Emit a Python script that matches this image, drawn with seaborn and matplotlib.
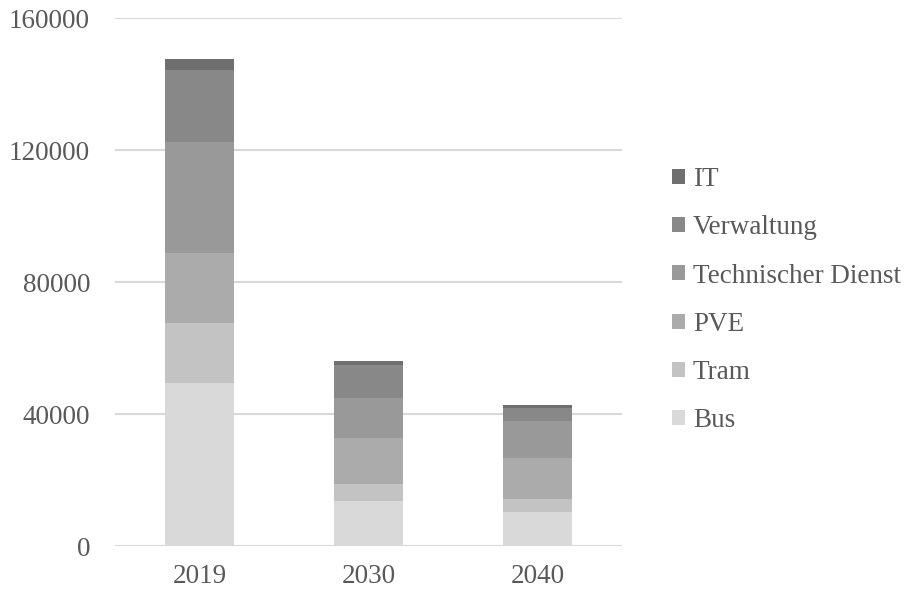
import matplotlib.pyplot as plt
import numpy as np
import pandas as pd
import seaborn as sns

# Daten
years = ['2019', '2030', '2040']
bus = [49500, 13600, 10200]
tram = [18200, 5200, 4000]
pve = [21000, 13800, 12400]
tech = [33800, 12200, 11300]
verw = [21900, 10000, 4000]
it = [3100, 1300, 800]

categories = ['Bus', 'Tram', 'PVE', 'Technischer Dienst', 'Verwaltung', 'IT']
series = [bus, tram, pve, tech, verw, it]
colors = ['#d9d9d9', '#c3c3c3', '#ababab', '#999999', '#888888', '#6f6f6f']

sns.set_theme(style='white')
plt.rcParams['font.family'] = ['Liberation Serif', 'DejaVu Serif']

fig = plt.figure(figsize=(9.07, 5.91), dpi=100)
ax = fig.add_axes([0.1268, 0.0761, 0.5594, 0.8934])

bottom = np.zeros(len(years))
for cat, vals, col in zip(categories, series, colors):
    df = pd.DataFrame({'year': years, 'value': vals})
    sns.barplot(data=df, x='year', y='value', color=col, width=0.41,
                bottom=bottom, label=cat, ax=ax, saturation=1, linewidth=0,
                legend=False)
    bottom = bottom + np.array(vals)

ax.set_ylim(0, 160000)
ax.set_xlim(-0.5, 2.5)
ax.set_yticks([0, 40000, 80000, 120000, 160000])
ax.yaxis.grid(True, color='#d9d9d9', linewidth=1.5)
ax.set_axisbelow(True)
for s in ax.spines.values():
    s.set_visible(False)
ax.set_xlabel('')
ax.set_ylabel('')
ax.tick_params(axis='y', length=0, pad=18, labelsize=19.5, labelcolor='#595959')
ax.tick_params(axis='x', length=0, pad=13, labelsize=19.5, labelcolor='#595959')

handles, labels = ax.get_legend_handles_labels()
if ax.get_legend() is not None:
    ax.get_legend().remove()
leg = fig.legend(handles[::-1], labels[::-1], loc='center left',
                 bbox_to_anchor=(0.741, 0.492), frameon=False, fontsize=19.5,
                 handlelength=0.47, handleheight=0.47, handletextpad=0.3,
                 labelspacing=0.86, borderpad=0, borderaxespad=0)
for t in leg.get_texts():
    t.set_color('#595959')

fig.savefig('out.png', dpi=100)
